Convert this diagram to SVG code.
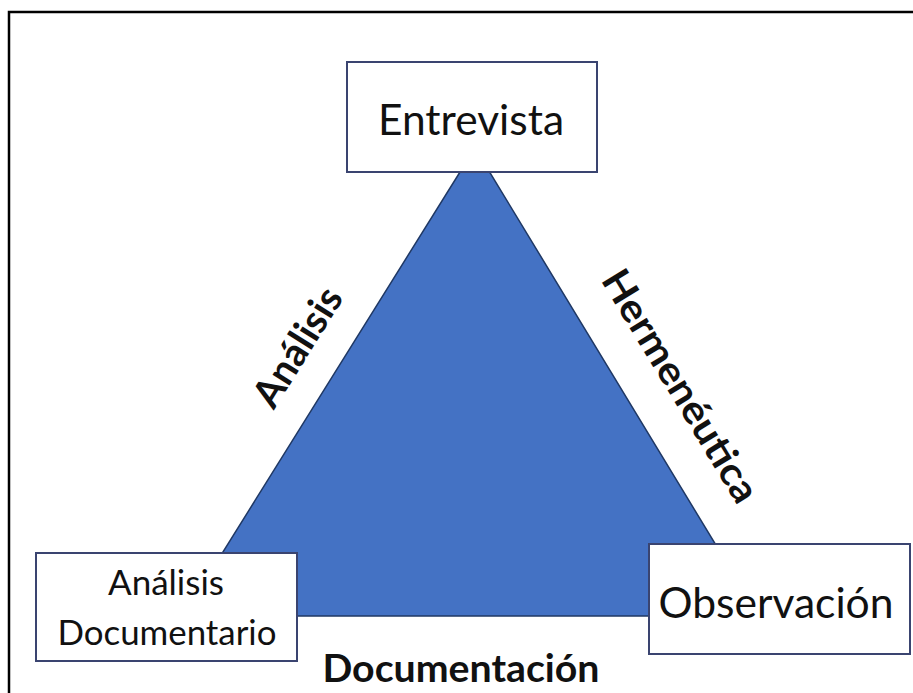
<svg xmlns="http://www.w3.org/2000/svg" width="913" height="693" viewBox="0 0 913 693">
  <style>
    .box { fill: #ffffff; stroke: #3a4470; stroke-width: 2; }
    .node-text { font-family: Lato, "Open Sans", "Liberation Sans", sans-serif; fill: #111111; text-anchor: middle; }
    .edge-text { font-family: Lato, "Open Sans", "Liberation Sans", sans-serif; font-weight: bold; fill: #111111; text-anchor: middle; font-size: 39px; }
  </style>
  <rect x="0" y="0" width="913" height="693" fill="#ffffff"/>
  <rect x="9" y="12" width="910" height="700" fill="none" stroke="#000000" stroke-width="2.5"/>
  <g id="connectors">
    <polygon points="475,148 183,616 759,616" fill="#4472C4" stroke="#1F3864" stroke-width="1.5"/>
    <text class="edge-text" x="309" y="354" textLength="133" lengthAdjust="spacingAndGlyphs" transform="rotate(-58 309 354)">Análisis</text>
    <text class="edge-text" x="669" y="393" textLength="265" lengthAdjust="spacingAndGlyphs" transform="rotate(58.7 669 393)">Hermenéutica</text>
    <text class="edge-text" x="461" y="682" font-size="37" textLength="277" lengthAdjust="spacingAndGlyphs">Documentación</text>
  </g>
  <g id="node-entrevista">
    <rect class="box" x="347" y="62" width="250" height="110"/>
    <text class="node-text" x="471" y="135" font-size="43" textLength="186" lengthAdjust="spacingAndGlyphs">Entrevista</text>
  </g>
  <g id="node-analisis-documentario">
    <rect class="box" x="36" y="553" width="261" height="108"/>
    <text class="node-text" x="166" y="595" font-size="35" textLength="116" lengthAdjust="spacingAndGlyphs">Análisis</text>
    <text class="node-text" x="167" y="645" font-size="35" textLength="219" lengthAdjust="spacingAndGlyphs">Documentario</text>
  </g>
  <g id="node-observacion">
    <rect class="box" x="649" y="544" width="261" height="110"/>
    <text class="node-text" x="776" y="618" font-size="43" textLength="235" lengthAdjust="spacingAndGlyphs">Observación</text>
  </g>
</svg>
